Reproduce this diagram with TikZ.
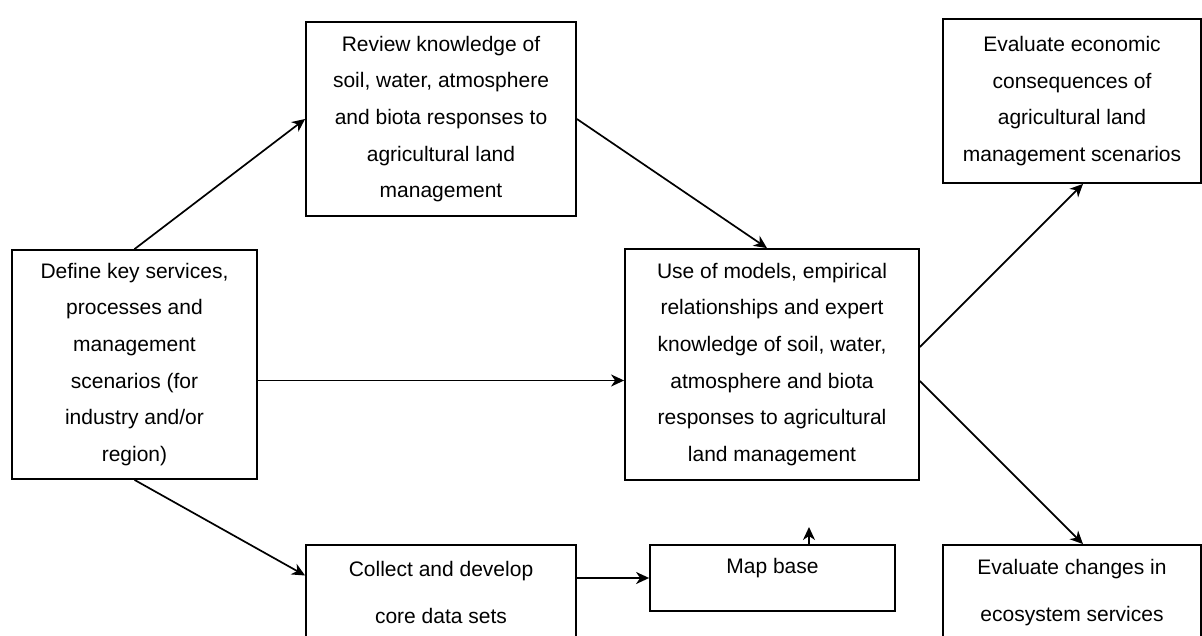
\documentclass[tikz,border=0pt]{standalone}
\usepackage{fontspec}
\setmainfont{Liberation Sans}
\usetikzlibrary{positioning,calc,arrows.meta}
\tikzset{
	box/.style={draw, line width=1.8pt, align=center, inner sep=0pt, font=\fontsize{21pt}{36.7pt}\selectfont},
	lowbox/.style={box, font=\fontsize{21pt}{47pt}\selectfont},
	link/.style={->, line width=1.7pt, >={Stealth[length=13pt, width=12pt, inset=4pt]}}
}

\begin{document}
\begin{tikzpicture}[x=1pt, y=-1pt]
	\useasboundingbox (0, 0) rectangle (1202, 636);

	\node[box, minimum width=245pt, minimum height=229pt] (define) at (134.5, 364.5) {Define key services,\\ processes and\\ management\\ scenarios (for\\ industry and/or\\ region)};
	\node[box, minimum width=270pt, minimum height=194pt] (review) at (441, 119) {Review knowledge of\\ soil, water, atmosphere\\ and biota responses to\\ agricultural land\\ management};
	\node[box, minimum width=294pt, minimum height=231pt] (use) at (772, 364.5) {Use of models, empirical\\ relationships and expert\\ knowledge of soil, water,\\ atmosphere and biota\\ responses to agricultural\\ land management};
	\node[box, minimum width=258pt, minimum height=164pt] (econ) at (1072, 101) {Evaluate economic\\ consequences of\\ agricultural land\\ management scenarios};

	\node[lowbox, minimum width=270pt, minimum height=95pt] (collect) at (441, 592.5) {Collect and develop\\ core data sets};
	\node[lowbox, minimum width=245pt, minimum height=66pt] (map) at (772.5, 578) {};
	\node[box, draw=none] (maptext) at ([yshift=-24pt]map.north) {Map base};
	\node[lowbox, minimum width=258pt, minimum height=95pt] (changes) at (1072, 592.5) {Evaluate changes in\\ ecosystem services};

	\coordinate (stub) at (809, 527);

	% links
	\draw [link] (define.north) to (review.west);
	\draw [link] (review.east) to ([xshift=-5pt]use.north);
	\draw [link] ([yshift=-16pt]define.east) to ([yshift=-16pt]use.west);
	\draw [link] (define.south) to ([yshift=17pt]collect.west);
	\draw [link] (map.west -| collect.east) to (map.west);
	\draw [link] (map.north -| stub) to (stub);
	\draw [link] ([yshift=17.5pt]use.east) to ([xshift=11pt]econ.south);
	\draw [link] ([yshift=-16.5pt]use.east) to ([xshift=11pt]changes.north);
\end{tikzpicture}
\end{document}
